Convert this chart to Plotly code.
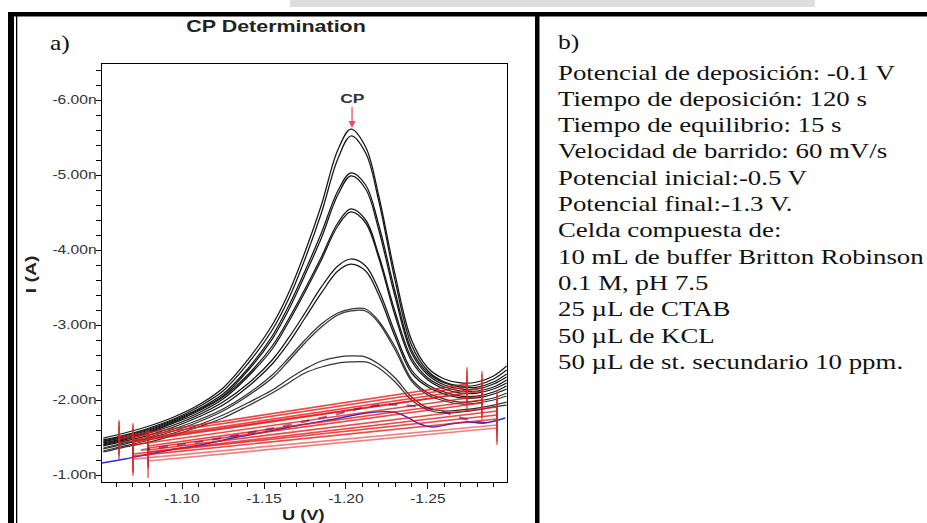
import plotly.graph_objects as go

W, H = 927, 523

# ---------------- data ----------------
u_grid = [-1.052, -1.065, -1.08, -1.095, -1.11, -1.125, -1.14, -1.155, -1.165, -1.175, -1.185,
          -1.195, -1.203, -1.212, -1.22, -1.23, -1.24, -1.25, -1.26, -1.27, -1.28, -1.29, -1.298]

# currents in nA (replicate pairs a/b per concentration)
i_1a = [-1.493, -1.56, -1.653, -1.773, -1.933, -2.16, -2.533, -3.0, -3.427, -3.973, -4.6, -5.333,
        -5.613, -5.373, -4.72, -3.667, -2.8, -2.427, -2.28, -2.227, -2.24, -2.32, -2.453]
i_1b = [-1.467, -1.533, -1.627, -1.747, -1.907, -2.12, -2.48, -2.933, -3.347, -3.88, -4.493, -5.213,
        -5.52, -5.293, -4.653, -3.587, -2.733, -2.387, -2.24, -2.187, -2.2, -2.28, -2.4]
i_2a = [-1.453, -1.52, -1.613, -1.733, -1.88, -2.08, -2.413, -2.853, -3.253, -3.72, -4.227, -4.787,
        -5.027, -4.867, -4.333, -3.44, -2.667, -2.36, -2.227, -2.173, -2.173, -2.24, -2.347]
i_2b = [-1.44, -1.507, -1.6, -1.72, -1.867, -2.053, -2.387, -2.813, -3.2, -3.667, -4.16, -4.733,
        -4.987, -4.813, -4.267, -3.373, -2.627, -2.333, -2.2, -2.147, -2.147, -2.213, -2.307]
i_3a = [-1.427, -1.493, -1.587, -1.707, -1.853, -2.04, -2.333, -2.72, -3.08, -3.48, -3.907, -4.36,
        -4.547, -4.4, -3.933, -3.173, -2.56, -2.293, -2.173, -2.12, -2.12, -2.173, -2.267]
i_3b = [-1.413, -1.48, -1.573, -1.693, -1.827, -2.013, -2.307, -2.68, -3.04, -3.44, -3.867, -4.32,
        -4.507, -4.36, -3.893, -3.12, -2.52, -2.267, -2.147, -2.093, -2.093, -2.147, -2.227]
i_4a = [-1.4, -1.467, -1.56, -1.667, -1.8, -1.973, -2.213, -2.533, -2.827, -3.16, -3.507, -3.787,
        -3.88, -3.787, -3.467, -2.893, -2.4, -2.2, -2.107, -2.053, -2.053, -2.107, -2.187]
i_4b = [-1.387, -1.453, -1.533, -1.64, -1.773, -1.933, -2.173, -2.48, -2.76, -3.093, -3.427, -3.72,
        -3.813, -3.72, -3.4, -2.84, -2.36, -2.173, -2.08, -2.027, -2.027, -2.08, -2.147]
i_5a = [-1.36, -1.427, -1.507, -1.613, -1.733, -1.88, -2.08, -2.333, -2.56, -2.8, -3.013, -3.16,
        -3.213, -3.213, -3.053, -2.707, -2.28, -2.093, -2.013, -1.973, -1.987, -2.027, -2.093]
i_5b = [-1.347, -1.413, -1.493, -1.587, -1.707, -1.853, -2.053, -2.293, -2.52, -2.76, -2.973, -3.133,
        -3.187, -3.187, -3.027, -2.667, -2.253, -2.067, -1.987, -1.947, -1.96, -2.0, -2.053]
i_6a = [-1.32, -1.387, -1.467, -1.56, -1.667, -1.8, -1.96, -2.133, -2.28, -2.413, -2.52, -2.573,
        -2.587, -2.573, -2.48, -2.293, -2.04, -1.893, -1.853, -1.867, -1.893, -1.933, -1.973]
i_6b = [-1.307, -1.373, -1.44, -1.533, -1.64, -1.76, -1.92, -2.093, -2.227, -2.36, -2.44, -2.493,
        -2.507, -2.507, -2.427, -2.24, -2.0, -1.867, -1.827, -1.84, -1.867, -1.907, -1.933]

# baselines (red): left and right end points
bl_u_left = [-1.0616, -1.0616, -1.0701, -1.0701, -1.0616, -1.0701, -1.0793, -1.0793,
             -1.0793, -1.0793, -1.0701, -1.0701, -1.0701, -1.0793]
bl_i_left = [-1.507, -1.48, -1.467, -1.44, -1.427, -1.4, -1.387, -1.36,
             -1.333, -1.307, -1.28, -1.253, -1.213, -1.187]
bl_u_right = [-1.2738, -1.2738, -1.2829, -1.2829, -1.2738, -1.2829, -1.2829, -1.2829,
              -1.2921, -1.2921, -1.2921, -1.2921, -1.2921, -1.2921]
bl_i_right = [-2.213, -2.173, -2.16, -2.12, -2.093, -2.053, -2.0, -1.96,
              -1.907, -1.853, -1.8, -1.747, -1.667, -1.627]

# blank scan (blue)
blank_u = [-1.0512, -1.0652, -1.0805, -1.0957, -1.111, -1.1311, -1.1506, -1.172, -1.1933, -1.2128,
           -1.2287, -1.2372, -1.2451, -1.253, -1.2634, -1.2738, -1.2835, -1.2909, -1.297]
blank_i = [-1.16, -1.213, -1.28, -1.347, -1.4, -1.493, -1.573, -1.667, -1.747, -1.827,
           -1.84, -1.773, -1.68, -1.64, -1.68, -1.707, -1.693, -1.72, -1.76]

# dark dashed overlay
dots_u = [-1.075, -1.11, -1.15, -1.19, -1.22, -1.25, -1.275, -1.285]
dots_i = [-1.333, -1.44, -1.6, -1.787, -1.933, -1.893, -1.733, -1.693]

y_tick_vals = [-6, -5, -4, -3, -2, -1]
y_tick_text = ["-6.00n", "-5.00n", "-4.00n", "-3.00n", "-2.00n", "-1.00n"]
x_tick_vals = [-1.10, -1.15, -1.20, -1.25]
x_tick_text = ["-1.10", "-1.15", "-1.20", "-1.25"]

cp_u, cp_i = -1.2037, -5.613

info_lines = [
    "Potencial de deposición: -0.1 V",
    "Tiempo de deposición: 120 s",
    "Tiempo de equilibrio: 15 s",
    "Velocidad de barrido: 60 mV/s",
    "Potencial inicial:-0.5 V",
    "Potencial final:-1.3 V.",
    "Celda compuesta de:",
    "10 mL de buffer Britton Robinson",
    "0.1 M, pH 7.5",
    "25 µL de CTAB",
    "50 µL de KCL",
    "50 µL de st. secundario 10 ppm.",
]

# ---------------- figure ----------------
def px(x):
    return x / W


def py(y):
    return 1 - y / H


fig = go.Figure()

curves = [i_1a, i_1b, i_2a, i_2b, i_3a, i_3b, i_4a, i_4b, i_5a, i_5b, i_6a, i_6b]
for k, c in enumerate(curves):
    fig.add_trace(go.Scatter(x=u_grid, y=c, mode="lines", line_shape="spline",
                             line=dict(color="#151515" if k < 8 else "#333333", width=1.25),
                             hoverinfo="skip", showlegend=False))

fig.add_trace(go.Scatter(x=blank_u, y=blank_i, mode="lines", line_shape="spline",
                         line=dict(color="#2b2bdc", width=1.4), hoverinfo="skip", showlegend=False))

for k in range(len(bl_u_left)):
    pale = k >= 12
    col = "rgba(240,120,120,0.95)" if pale else "rgba(228,22,22,0.78)"
    fig.add_trace(go.Scatter(x=[bl_u_left[k], bl_u_right[k]], y=[bl_i_left[k], bl_i_right[k]],
                             mode="lines+markers",
                             line=dict(color=col, width=1.7),
                             marker=dict(symbol="line-ns", size=24,
                                         line=dict(color="rgba(210,40,40,0.85)", width=1.3)),
                             hoverinfo="skip", showlegend=False))

fig.add_trace(go.Scatter(x=dots_u, y=dots_i, mode="lines", line_shape="spline",
                         line=dict(color="rgba(120,0,70,0.6)", width=2.2, dash="dash"),
                         hoverinfo="skip", showlegend=False))

sans = "Liberation Sans"
serif = "Liberation Serif"

annotations = [
    dict(text="<b>CP Determination</b>", x=px(276), y=py(26), xref="paper", yref="paper",
         xanchor="center", yanchor="middle",
         showarrow=False, font=dict(family=sans, size=16.5, color="#222")),
    dict(text="a)", x=px(48), y=py(43), xref="paper", yref="paper", xanchor="left",
         yanchor="middle", align="left", showarrow=False,
         font=dict(family=serif, size=21, color="#111")),
    dict(text="b)", x=px(556), y=py(42), xref="paper", yref="paper", xanchor="left",
         yanchor="middle", align="left", showarrow=False,
         font=dict(family=serif, size=21, color="#111")),
    dict(text="<b>I (A)</b>", x=px(30), y=py(274), xref="paper", yref="paper", textangle=-90,
         xanchor="center", yanchor="middle",
         showarrow=False, font=dict(family=sans, size=15, color="#222")),
    dict(text="<b>U (V)</b>", x=px(303), y=py(515), xref="paper", yref="paper",
         xanchor="center", yanchor="middle",
         showarrow=False, font=dict(family=sans, size=14, color="#222")),
    dict(text="<b>CP</b>", x=cp_u, y=cp_i, xref="x", yref="y", showarrow=True,
         ax=0, ay=-31, arrowcolor="#e8506a", arrowwidth=1.3, arrowhead=2, arrowsize=1.1,
         standoff=1, font=dict(family=sans, size=13.5, color="#333")),
]
for k, line in enumerate(info_lines):
    annotations.append(dict(text=line, x=px(556), y=py(72 + 26.3 * k), xref="paper", yref="paper",
                            xanchor="left", yanchor="middle", align="left", showarrow=False,
                            font=dict(family=serif, size=22, color="#111")))

shapes = [
    dict(type="rect", xref="paper", yref="paper", x0=px(290), x1=px(815), y0=py(0), y1=py(7),
         fillcolor="#dedede", line=dict(width=0), layer="below"),
    dict(type="rect", xref="paper", yref="paper", x0=px(8), x1=px(940), y0=py(12), y1=py(16.5),
         fillcolor="black", line=dict(width=0)),
    dict(type="rect", xref="paper", yref="paper", x0=px(8), x1=px(14), y0=py(12), y1=py(530),
         fillcolor="black", line=dict(width=0)),
    dict(type="rect", xref="paper", yref="paper", x0=px(16), x1=px(17.3), y0=py(16), y1=py(530),
         fillcolor="black", line=dict(width=0)),
    dict(type="rect", xref="paper", yref="paper", x0=px(535), x1=px(539.5), y0=py(12), y1=py(530),
         fillcolor="black", line=dict(width=0)),
]

fig.update_layout(
    width=W, height=H, margin=dict(l=0, r=0, t=0, b=0),
    paper_bgcolor="white", plot_bgcolor="white",
    showlegend=False,
    annotations=annotations, shapes=shapes,
    xaxis=dict(domain=[px(102), px(507)], range=[-1.0512, -1.2982],
               tickmode="array", tickvals=x_tick_vals, ticktext=x_tick_text,
               ticks="outside", ticklen=6, tickcolor="black", tickwidth=1,
               minor=dict(dtick=0.01, tick0=0, ticks="outside", ticklen=4, tickcolor="black"),
               showline=True, linecolor="black", linewidth=1, mirror=True,
               showgrid=False, zeroline=False,
               tickfont=dict(family=sans, size=12, color="#333")),
    yaxis=dict(domain=[py(482), py(64)], range=[-0.9067, -6.48],
               tickmode="array", tickvals=y_tick_vals, ticktext=y_tick_text,
               ticks="outside", ticklen=5, tickcolor="black", tickwidth=1,
               minor=dict(dtick=0.2, tick0=0, ticks="outside", ticklen=5, tickcolor="black"),
               showline=True, linecolor="black", linewidth=1, mirror=True,
               showgrid=False, zeroline=False, ticklabelstandoff=-3,
               tickfont=dict(family=sans, size=12, color="#333")),
)

post = """
var gd = document.getElementById('{plot_id}');
function stretchTexts(){
  gd.querySelectorAll('svg text').forEach(function(t){
    if (t.getAttribute('data-st')) return;
    var tr = t.getAttribute('transform') || '';
    if (tr.indexOf('rotate') >= 0) return;
    var fam = t.style.fontFamily || '';
    var s = fam.indexOf('Serif') >= 0 ? 1.22 : 1.3;
    var b = t.getBBox();
    if (!b.width) return;
    var a = t.getAttribute('text-anchor') || 'start';
    var cx = a === 'end' ? b.x + b.width : (a === 'middle' ? b.x + b.width / 2 : b.x);
    t.setAttribute('transform', tr + ' translate(' + cx + ',0) scale(' + s + ',1) translate(' + (-cx) + ',0)');
    t.setAttribute('data-st', '1');
  });
}
stretchTexts();
"""

fig.write_html("out.html", post_script=post, config={"displayModeBar": False})
